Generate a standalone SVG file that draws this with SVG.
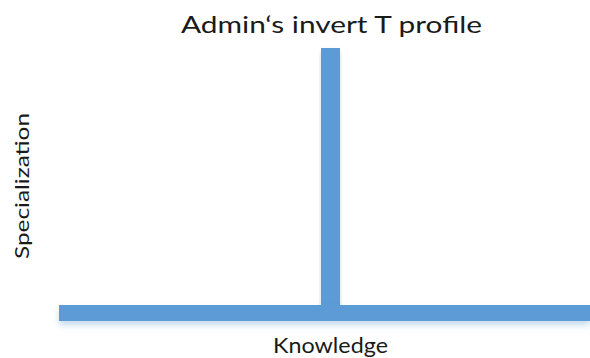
<svg xmlns="http://www.w3.org/2000/svg" width="590" height="358" viewBox="0 0 590 358">
<style>
.bar{fill:#5b9bd5}
.t{font-family:Lato,"Open Sans","Liberation Sans",sans-serif;fill:#1a1a1a}
</style>
<defs>
<filter id="sh" x="-10%" y="-50%" width="120%" height="250%">
<feDropShadow dx="0" dy="4" stdDeviation="3" flood-color="#5b9bd5" flood-opacity="0.35"/>
</filter>
</defs>
<rect width="590" height="358" fill="#fff"/>
<g id="connectors">
<g id="vertical-bar"><rect class="bar" x="321" y="48" width="19" height="260" filter="url(#sh)"/></g>
<g id="horizontal-bar"><rect class="bar" x="59" y="305" width="531" height="16" filter="url(#sh)"/></g>
</g>
<g id="title"><text class="t" x="331.5" y="33" font-size="23" text-anchor="middle" textLength="301" lengthAdjust="spacingAndGlyphs">Admin‘s invert T profile</text></g>
<g id="y-label"><text class="t" transform="translate(29,186) rotate(-90)" x="0" y="0" font-size="19" text-anchor="middle" textLength="146" lengthAdjust="spacingAndGlyphs">Specialization</text></g>
<g id="x-label"><text class="t" x="330.5" y="353" font-size="21" text-anchor="middle" textLength="115" lengthAdjust="spacingAndGlyphs">Knowledge</text></g>
</svg>
